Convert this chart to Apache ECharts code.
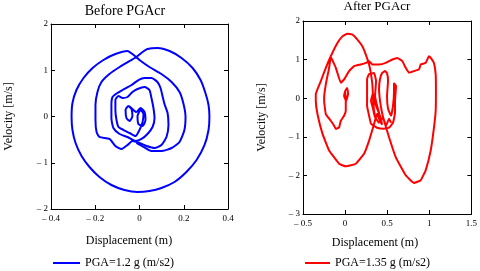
<!DOCTYPE html>
<html>
<head>
<meta charset="utf-8">
<script src="https://cdn.jsdelivr.net/npm/echarts@6/dist/echarts.min.js"></script>
<style>
html,body{margin:0;padding:0;background:#fff;}
#c{width:480px;height:271px;}
</style>
</head>
<body>
<div id="c"></div>
<script>
// ---- Data ----
var leftTitle = 'Before PGAcr';
var rightTitle = 'After PGAcr';
var xName = 'Displacement (m)';
var yName = 'Velocity [m/s]';
var leftSeriesName = 'PGA=1.2 g (m/s2)';
var rightSeriesName = 'PGA=1.35 g (m/s2)';

var leftXTicks = [-0.4, -0.2, 0, 0.2, 0.4];
var leftYTicks = [-2, -1, 0, 1, 2];
var rightXTicks = [-0.5, 0, 0.5, 1, 1.5];
var rightYTicks = [-3, -2, -1, 0, 1, 2];

// Before PGAcr: displacement (m) / velocity (m/s) along the trajectory
var leftDisp = [
 -0.050,-0.036,-0.032,-0.045,-0.059,-0.063,-0.050,
 -0.014,0.005,0.023,0.027,0.014,-0.005,-0.009,0.005,0.018,0.014,
 0,-0.018,-0.045,-0.072,-0.095,-0.104,-0.109,-0.109,-0.095,-0.077,-0.054,-0.032,-0.009,0.023,0.045,0.054,0.063,0.068,0.059,0.036,0.009,-0.018,
 -0.054,-0.090,-0.118,-0.127,-0.127,-0.122,-0.100,-0.077,-0.036,-0.005,0.023,0.054,0.081,0.095,0.104,0.113,0.127,0.131,0.122,0.099,0.068,0.032,0,
 -0.032,-0.054,-0.081,-0.109,-0.136,-0.181,-0.194,-0.199,-0.199,-0.190,-0.172,-0.136,-0.090,-0.045,-0.014,0.014,0.036,0.081,0.136,0.190,0.240,0.276,0.298,0.312,0.316,0.312,0.294,0.258,0.212,0.158,0.099,0.045,-0.009,-0.068,-0.127,-0.181,-0.226,-0.262,-0.289,-0.303,-0.307,-0.303,-0.285,-0.253,-0.212,-0.163,-0.109,-0.054,-0.032,0,0.045,0.099,0.145,0.181,0.199,0.208,0.203,0.181,0.145,0.099,0.054,0.018,-0.014
];
var leftVel = [
 0.227,0.162,0.011,-0.097,-0.032,0.141,0.227,
 0.097,0.184,0.097,-0.076,-0.205,-0.162,0.011,0.141,0.054,-0.119,
 -0.292,-0.422,-0.357,-0.292,-0.227,-0.076,0.141,0.357,0.443,0.400,0.422,0.530,0.595,0.638,0.573,0.400,0.184,-0.032,-0.227,-0.378,-0.486,-0.530,
 -0.443,-0.378,-0.249,-0.032,0.249,0.422,0.508,0.573,0.681,0.789,0.833,0.833,0.746,0.616,0.443,0.270,0.076,-0.184,-0.443,-0.616,-0.681,-0.638,-0.573,
 -0.530,-0.616,-0.703,-0.638,-0.486,-0.443,-0.335,-0.076,0.249,0.530,0.746,0.919,1.070,1.200,1.286,1.395,1.460,1.481,1.416,1.265,1.049,0.789,0.508,0.249,-0.011,-0.292,-0.616,-0.941,-1.200,-1.416,-1.546,-1.611,-1.632,-1.589,-1.481,-1.308,-1.092,-0.854,-0.573,-0.292,-0.011,0.292,0.573,0.832,1.049,1.222,1.351,1.416,1.351,1.222,1.070,0.919,0.746,0.530,0.270,-0.011,-0.292,-0.551,-0.681,-0.746,-0.746,-0.659,-0.573
];

// After PGAcr: displacement (m) / velocity (m/s) along the trajectory
var rightDisp = [
 0,0.024,0.036,0.012,-0.012,0,
 0.008,0.008,-0.012,-0.051,-0.071,-0.110,-0.130,-0.170,-0.229,-0.249,-0.249,-0.229,-0.190,-0.170,
 -0.110,-0.051,-0.012,0.047,0.107,0.186,0.246,0.285,0.324,0.403,0.483,0.561,0.620,0.680,0.720,0.759,0.818,0.878,0.898,0.957,0.996,1.020,1.056,1.076,1.079,1.076,
 1.056,1.017,0.957,0.898,0.819,0.720,0.601,0.522,0.463,
 0.439,0.415,0.403,0.415,0.439,0.474,0.498,0.510,0.498,0.510,0.546,0.569,0.581,0.581,0.605,0.593,0.593,0.569,0.522,0.463,0.380,0.308,0.285,0.261,0.261,0.261,0.285,0.344,0.368,0.356,0.380,0.403,0.356,0.332,0.308,0.332,0.356,0.391,0.427,0.439,0.403,0.380,
 0.344,0.285,0.225,0.127,0.008,-0.071,-0.190,-0.269,-0.329,-0.348,-0.348,-0.288,-0.229,-0.170,
 -0.091,-0.032,0.027,0.087,0.146,0.205,0.246,0.285,0.305,0.324,0.332,0.344,0.368,0.403,0.451,0.486,0.522,0.546
];
var rightVel = [
 0.188,0.265,0.111,-0.069,0.059,0.188,
 -0.069,-0.326,-0.455,-0.584,-0.756,-0.797,-0.712,-0.584,-0.411,-0.069,0.015,0.360,0.787,1.062,
 0.787,0.401,0.488,0.702,0.830,0.874,0.915,0.959,0.874,0.874,0.915,1.003,1.044,0.959,0.787,0.658,0.702,0.746,0.874,0.915,1.087,1.036,0.907,0.617,0.188,-0.326,
 -0.756,-1.355,-1.869,-2.126,-2.196,-1.997,-1.527,-1.013,-0.584,
 -0.378,-0.069,0.239,0.496,0.650,0.702,0.650,0.445,0.059,-0.275,-0.455,-0.198,0.188,0.393,0.316,-0.069,-0.378,-0.635,-0.764,-0.789,-0.764,-0.661,-0.455,-0.198,0.188,0.496,0.625,0.650,0.445,0.059,-0.198,-0.378,-0.507,-0.275,-0.069,0.136,-0.121,-0.327,-0.532,-0.686,-0.532,-0.404,
 -0.668,-1.098,-1.440,-1.697,-1.766,-1.697,-1.355,-0.918,-0.404,-0.069,0.103,0.445,0.787,1.087,
 1.429,1.602,1.671,1.645,1.517,1.344,1.131,0.874,0.658,0.360,0.015,-0.327,-0.532,-0.635,-0.507,-0.712,-0.532,-0.635
];

// ---- Chart ----
function zip(a, b) { var r = []; for (var i = 0; i < a.length; i++) r.push([a[i], b[i]]); return r; }
function fmt(v) { return v < 0 ? '\u2013 ' + Math.abs(v) : String(v); }
var FONT = '"Liberation Serif","Times New Roman",serif';

function axisFrom(ticks, gridIndex, position, showLabel, labelMargin) {
  return {
    type: 'value', gridIndex: gridIndex, position: position,
    min: ticks[0], max: ticks[ticks.length - 1], interval: ticks[1] - ticks[0],
    axisLine: { show: true, onZero: false, lineStyle: { color: '#000', width: 1 } },
    axisTick: { show: true, inside: true, length: 4, lineStyle: { color: '#000', width: 1 } },
    axisLabel: { show: showLabel, formatter: fmt, color: '#000', fontFamily: FONT, fontSize: 9, margin: labelMargin },
    splitLine: { show: false }
  };
}

var chart = echarts.init(document.getElementById('c'), null, { renderer: 'canvas' });
chart.setOption({
  animation: false,
  backgroundColor: '#fff',
  title: [
    { text: leftTitle, left: 125, top: 4, padding: 0, textAlign: 'center', textStyle: { fontFamily: FONT, fontSize: 14, fontWeight: 'normal', color: '#000' } },
    { text: rightTitle, left: 377, top: 0, padding: 0, textAlign: 'center', textStyle: { fontFamily: FONT, fontSize: 13, fontWeight: 'normal', color: '#000' } },
    { text: xName, left: 129, top: 235, padding: 0, textAlign: 'center', textStyle: { fontFamily: FONT, fontSize: 12, fontWeight: 'normal', color: '#000' } },
    { text: xName, left: 375, top: 237, padding: 0, textAlign: 'center', textStyle: { fontFamily: FONT, fontSize: 12, fontWeight: 'normal', color: '#000' } }
  ],
  grid: [
    { left: 51, top: 24, width: 177, height: 185, show: false },
    { left: 303, top: 21, width: 169, height: 193, show: false }
  ],
  legend: [
    { data: [leftSeriesName], left: 53, top: 257, padding: 0, icon: 'rect', itemWidth: 27, itemHeight: 2,
      textStyle: { fontFamily: FONT, fontSize: 12, color: '#000' } },
    { data: [rightSeriesName], left: 305, top: 257, padding: 0, icon: 'rect', itemWidth: 25, itemHeight: 2,
      textStyle: { fontFamily: FONT, fontSize: 12, color: '#000' } }
  ],
  xAxis: [
    axisFrom(leftXTicks, 0, 'bottom', true, 5),
    axisFrom(leftXTicks, 0, 'top', false, 5),
    axisFrom(rightXTicks, 1, 'bottom', true, 5),
    axisFrom(rightXTicks, 1, 'top', false, 5)
  ],
  yAxis: [
    Object.assign(axisFrom(leftYTicks, 0, 'left', true, 3), {
      name: yName, nameLocation: 'middle', nameGap: 36, nameRotate: 90,
      nameTextStyle: { fontFamily: FONT, fontSize: 12, color: '#000' } }),
    axisFrom(leftYTicks, 0, 'right', false, 3),
    Object.assign(axisFrom(rightYTicks, 1, 'left', true, 3), {
      name: yName, nameLocation: 'middle', nameGap: 35, nameRotate: 90,
      nameTextStyle: { fontFamily: FONT, fontSize: 12, color: '#000' } }),
    axisFrom(rightYTicks, 1, 'right', false, 3)
  ],
  series: [
    { name: leftSeriesName, type: 'line', xAxisIndex: 0, yAxisIndex: 0, data: zip(leftDisp, leftVel),
      showSymbol: false, symbol: 'none', smooth: 0.2, color: '#0000ff', lineStyle: { color: '#0000ff', width: 2 } },
    { name: rightSeriesName, type: 'line', xAxisIndex: 2, yAxisIndex: 2, data: zip(rightDisp, rightVel),
      showSymbol: false, symbol: 'none', smooth: 0.1, color: '#ff0000', lineStyle: { color: '#ff0000', width: 2 } }
  ]
});
</script>
</body>
</html>
